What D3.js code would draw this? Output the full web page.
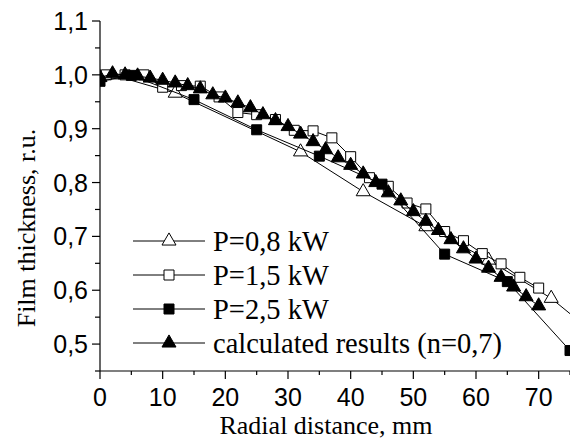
<!DOCTYPE html>
<html>
<head>
<meta charset="utf-8">
<script src="https://cdn.jsdelivr.net/npm/d3@7"></script>
<style>
  body { margin: 0; background: #fff; }
  svg { display: block; }
  .tick-label { font-family: "Liberation Sans", Arial, sans-serif; font-size: 25px; fill: #000; }
  .axis-title, .legend-label { font-family: "Liberation Serif", "Times New Roman", serif; fill: #000; }
</style>
</head>
<body>
<div id="chart"></div>
<script>
// radial distance (mm) and film thickness (r.u.)
const p08Dist = [2, 12, 32, 42, 52, 62, 72, 82];
const p08Thick = [1.0, 0.966, 0.857, 0.783, 0.718, 0.656, 0.585, 0.49];

const p15Dist = [1, 4, 7, 10, 13, 16, 19, 22, 25, 28, 31, 34, 37, 40, 43, 46, 49, 52, 55, 58, 61, 64, 67, 70];
const p15Thick = [1.0, 1.0, 1.0, 0.977, 0.98, 0.979, 0.959, 0.930, 0.926, 0.917, 0.897, 0.896, 0.883,
  0.848, 0.809, 0.793, 0.762, 0.751, 0.709, 0.692, 0.668, 0.649, 0.624, 0.604];

const p25Dist = [0, 5, 15, 25, 35, 45, 55, 65, 75];
const p25Thick = [0.988, 0.999, 0.954, 0.898, 0.849, 0.797, 0.667, 0.616, 0.488];

const calcDist = [0, 2, 4, 6, 8, 10, 12, 14, 16, 18, 20, 22, 24, 26, 28, 30, 32, 34, 36,
  38, 40, 42, 44, 46, 48, 50, 52, 54, 56, 58, 60, 62, 64, 66, 68, 70];
const calcThick = [0.995, 1.002, 1.0, 0.998, 0.994, 0.990, 0.985, 0.980, 0.974, 0.963, 0.957, 0.948,
  0.939, 0.926, 0.915, 0.904, 0.890, 0.876, 0.861, 0.846, 0.832, 0.816, 0.800, 0.781, 0.766,
  0.746, 0.728, 0.711, 0.694, 0.677, 0.658, 0.641, 0.624, 0.606, 0.588, 0.571];

const xTickValues = [0, 10, 20, 30, 40, 50, 60, 70];
const xTickLabels = ["0", "10", "20", "30", "40", "50", "60", "70"];
const yTickValues = [0.5, 0.6, 0.7, 0.8, 0.9, 1.0, 1.1];
const yTickLabels = ["0,5", "0,6", "0,7", "0,8", "0,9", "1,0", "1,1"];

const seriesNames = ["P=0,8 kW", "P=1,5 kW", "P=2,5 kW", "calculated results (n=0,7)"];

const width = 570, height = 441;
const margin = { top: 21, right: 0, bottom: 70, left: 100 };

const svg = d3.select("#chart").append("svg")
  .attr("width", width)
  .attr("height", height);

const x = d3.scaleLinear().domain([0, 75]).range([margin.left, width - margin.right]);
const y = d3.scaleLinear().domain([0.45, 1.1]).range([height - margin.bottom, margin.top]);

svg.append("defs").append("clipPath").attr("id", "plot-clip")
  .append("rect")
  .attr("x", margin.left).attr("y", 0)
  .attr("width", width - margin.left).attr("height", height - margin.bottom);

// axes
const axisG = svg.append("g").attr("stroke", "#000").attr("stroke-width", 1.2);
axisG.append("line")
  .attr("x1", x(0)).attr("x2", x(0))
  .attr("y1", y(1.1)).attr("y2", y(0.45));
axisG.append("line")
  .attr("x1", x(0)).attr("x2", x(75))
  .attr("y1", y(0.45)).attr("y2", y(0.45));

// y ticks (major + minor)
axisG.selectAll(".ytick")
  .data(d3.range(0.45, 1.101, 0.05))
  .join("line")
  .attr("x1", x(0))
  .attr("x2", (d, i) => x(0) - (i % 2 === 1 ? 8 : 5))
  .attr("y1", d => y(d)).attr("y2", d => y(d));

// x ticks (major + minor)
axisG.selectAll(".xtick")
  .data(d3.range(0, 76, 5))
  .join("line")
  .attr("x1", d => x(d)).attr("x2", d => x(d))
  .attr("y1", y(0.45))
  .attr("y2", d => y(0.45) + (d % 10 === 0 ? 8 : 4));

svg.selectAll(".ylab")
  .data(yTickValues)
  .join("text")
  .attr("class", "tick-label")
  .attr("x", x(0) - 12)
  .attr("y", d => y(d) + 9)
  .attr("text-anchor", "end")
  .text((d, i) => yTickLabels[i]);

svg.selectAll(".xlab")
  .data(xTickValues)
  .join("text")
  .attr("class", "tick-label")
  .attr("x", d => x(d))
  .attr("y", y(0.45) + 35)
  .attr("text-anchor", "middle")
  .text((d, i) => xTickLabels[i]);

svg.append("text")
  .attr("class", "axis-title")
  .attr("x", (x(0) + x(75)) / 2 - 9)
  .attr("y", 434)
  .attr("text-anchor", "middle")
  .attr("font-size", 26)
  .text("Radial distance, mm");

svg.append("text")
  .attr("class", "axis-title")
  .attr("transform", `translate(35, ${(y(0.45) + y(1.1)) / 2 + 32}) rotate(-90)`)
  .attr("text-anchor", "middle")
  .attr("font-size", 26)
  .text("Film thickness, r.u.");

// series
const triangle = d3.symbol().type(d3.symbolTriangle).size(85);
const square = d3.symbol().type(d3.symbolSquare).size(100);

const series = [
  { dist: p08Dist, thick: p08Thick, symbol: triangle, fill: "#fff" },
  { dist: p15Dist, thick: p15Thick, symbol: square, fill: "#fff" },
  { dist: p25Dist, thick: p25Thick, symbol: square, fill: "#000" },
  { dist: calcDist, thick: calcThick, symbol: triangle, fill: "#000" }
];

const line = d3.line()
  .x(d => x(d[0]))
  .y(d => y(d[1]));

const plot = svg.append("g").attr("clip-path", "url(#plot-clip)");

series.forEach(s => {
  const pts = s.dist.map((d, i) => [d, s.thick[i]]);
  const g = plot.append("g");
  g.append("path")
    .datum(pts)
    .attr("fill", "none")
    .attr("stroke", "#000")
    .attr("stroke-width", 1)
    .attr("d", line);
  g.selectAll("path.mark")
    .data(pts)
    .join("path")
    .attr("class", "mark")
    .attr("transform", d => `translate(${x(d[0])},${y(d[1])})`)
    .attr("d", s.symbol())
    .attr("fill", s.fill)
    .attr("stroke", "#000")
    .attr("stroke-width", 1);
});

// legend
const legend = svg.append("g");
const legendX = 133, legendY = 241, rowH = 34;
series.forEach((s, i) => {
  const cy = legendY + i * rowH;
  legend.append("line")
    .attr("x1", legendX).attr("x2", legendX + 72)
    .attr("y1", cy).attr("y2", cy)
    .attr("stroke", "#000").attr("stroke-width", 1);
  legend.append("path")
    .attr("transform", `translate(${legendX + 36},${cy})`)
    .attr("d", s.symbol())
    .attr("fill", s.fill)
    .attr("stroke", "#000");
  legend.append("text")
    .attr("class", "legend-label")
    .attr("x", legendX + 80)
    .attr("y", cy + 10)
    .attr("font-size", 28.5)
    .text(seriesNames[i]);
});
</script>
</body>
</html>
